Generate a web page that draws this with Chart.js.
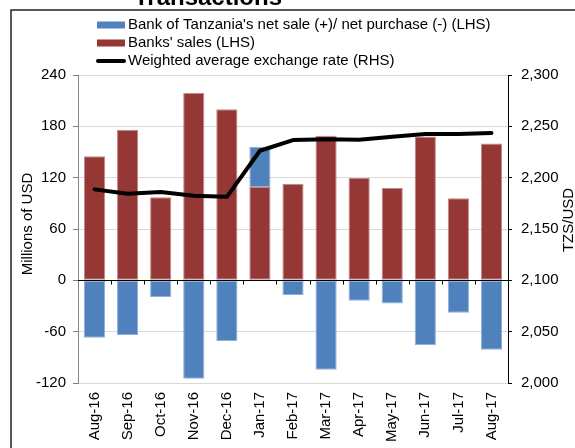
<!DOCTYPE html>
<html>
<head>
<meta charset="utf-8">
<script src="https://cdn.jsdelivr.net/npm/chart.js@4"></script>
<style>
  html, body { margin: 0; padding: 0; background: #fff; }
  #wrap { width: 575px; height: 448px; }
</style>
</head>
<body>
<div id="wrap"><canvas id="chart" width="575" height="448"></canvas></div>
<script>
const months = ["Aug-16", "Sep-16", "Oct-16", "Nov-16", "Dec-16", "Jan-17", "Feb-17",
    "Mar-17", "Apr-17", "May-17", "Jun-17", "Jul-17", "Aug-17"];
const botNet = [-67, -64, -19.5, -115, -71, 47, -17, -104.5, -24, -27, -76, -38, -81];
const banksSales = [145, 176, 97, 219, 200, 109, 113, 169, 120, 108, 168, 96, 160];
const exchRate = [2188.6, 2184.3, 2186, 2182.3, 2181.3, 2226.2, 2236.6, 2237.3, 2237, 2239.9, 2242.5, 2242.5, 2243.5];
const leftTicks = [-120, -60, 0, 60, 120, 180, 240];
const rightTicks = [2000, 2050, 2100, 2150, 2200, 2250, 2300];

const FONT = "'Liberation Sans', Arial, sans-serif";
Chart.defaults.font.family = FONT;
Chart.defaults.font.size = 15;
Chart.defaults.color = "#000";

// frame, title, zero line, legend, axis titles
const decor = {
    id: "decor",
    beforeDraw(chart) {
        const ctx = chart.ctx;
        ctx.save();
        ctx.fillStyle = "#fff";
        ctx.fillRect(0, 0, chart.width, chart.height);
        ctx.strokeStyle = "#222";
        ctx.lineWidth = 1.5;
        ctx.beginPath();
        ctx.moveTo(11, 460);
        ctx.lineTo(11, 10);
        ctx.lineTo(600, 10);
        ctx.stroke();
        ctx.fillStyle = "#000";
        ctx.font = "bold 24px " + FONT;
        ctx.textAlign = "center";
        ctx.textBaseline = "alphabetic";
        ctx.fillText("Transactions", 208, 5);
        ctx.restore();
    },
    afterDatasetsDraw(chart) {
        const ctx = chart.ctx;
        const area = chart.chartArea;
        const y0 = Math.round(chart.scales.y.getPixelForValue(0)) + 0.5;
        const n = months.length;
        const w = (area.right - area.left) / n;
        ctx.save();
        ctx.strokeStyle = "#000";
        ctx.lineWidth = 1;
        ctx.beginPath();
        ctx.moveTo(area.left, y0);
        ctx.lineTo(area.right, y0);
        for (let i = 1; i < n; i++) {
            const x = Math.round(area.left + i * w) + 0.5;
            ctx.moveTo(x, y0);
            ctx.lineTo(x, y0 + 4);
        }
        ctx.stroke();
        ctx.restore();
    },
    afterDraw(chart) {
        const ctx = chart.ctx;
        ctx.save();
        ctx.font = "15px " + FONT;
        ctx.fillStyle = "#000";
        ctx.textBaseline = "middle";
        ctx.textAlign = "left";
        const rows = [25, 43, 61];
        chart.data.datasets.forEach((ds, i) => {
            const y = rows[i];
            if (ds.type === "line") {
                ctx.strokeStyle = ds.borderColor;
                ctx.lineWidth = 4;
                ctx.lineCap = "round";
                ctx.beginPath();
                ctx.moveTo(98, y);
                ctx.lineTo(124, y);
                ctx.stroke();
            } else {
                ctx.fillStyle = ds.backgroundColor;
                ctx.fillRect(97, y - 3.5, 28, 7);
            }
            ctx.fillStyle = "#000";
            ctx.fillText(ds.label, 128, y);
        });

        // axis titles, both read bottom to top
        ctx.textAlign = "center";
        ctx.translate(28, 224);
        ctx.rotate(-Math.PI / 2);
        ctx.fillText("Millions of USD", 0, 0);
        ctx.setTransform(1, 0, 0, 1, 0, 0);
        ctx.translate(569, 220);
        ctx.rotate(-Math.PI / 2);
        ctx.fillText("TZS/USD", 0, 0);
        ctx.restore();
    }
};

new Chart(document.getElementById("chart"), {
    type: "bar",
    data: {
        labels: months,
        datasets: [
            {
                label: "Bank of Tanzania's net sale (+)/ net purchase (-) (LHS)",
                data: botNet,
                backgroundColor: "#4f81bd",
                borderColor: "#8fb0d8",
                borderWidth: 1,
                borderSkipped: false,
                barPercentage: 0.64,
                categoryPercentage: 1,
                order: 2,
                yAxisID: "y"
            },
            {
                label: "Banks' sales (LHS)",
                data: banksSales,
                backgroundColor: "#953735",
                borderColor: "#c08a88",
                borderWidth: 1,
                borderSkipped: false,
                barPercentage: 0.64,
                categoryPercentage: 1,
                order: 1,
                yAxisID: "y"
            },
            {
                type: "line",
                label: "Weighted average exchange rate (RHS)",
                data: exchRate,
                borderColor: "#000",
                backgroundColor: "#000",
                borderWidth: 4,
                borderJoinStyle: "round",
                borderCapStyle: "round",
                pointRadius: 0,
                tension: 0,
                order: 0,
                yAxisID: "y1"
            }
        ]
    },
    options: {
        responsive: false,
        devicePixelRatio: 1,
        animation: false,
        layout: { padding: { left: 12, top: 75, right: 0, bottom: 0 } },
        plugins: {
            legend: { display: false },
            tooltip: { enabled: false }
        },
        scales: {
            x: {
                stacked: true,
                grid: { display: false, drawTicks: false },
                border: { display: false },
                ticks: { minRotation: 90, maxRotation: 90, padding: 9, autoSkip: false },
                afterFit: (s) => { s.height = 448 - 383; }
            },
            y: {
                position: "left",
                stacked: true,
                min: -120,
                max: 240,
                afterBuildTicks: (s) => { s.ticks = leftTicks.map(v => ({ value: v })); },
                grid: {
                    color: (c) => c.tick && c.tick.value === 0 ? "rgba(0,0,0,0)" : "#d9d9d9",
                    tickColor: "#808080",
                    tickLength: 5
                },
                border: { color: "#868686" },
                ticks: { padding: 7 },
                afterFit: (s) => { s.width = 78 - 12; }
            },
            y1: {
                position: "right",
                min: 2000,
                max: 2300,
                afterBuildTicks: (s) => { s.ticks = rightTicks.map(v => ({ value: v })); },
                grid: { drawOnChartArea: false, tickColor: "#000", tickLength: 4 },
                border: { color: "#000" },
                ticks: {
                    padding: 9,
                    callback: (v) => v.toLocaleString("en-US")
                },
                afterFit: (s) => { s.width = 575 - 508; }
            }
        }
    },
    plugins: [decor]
});
</script>
</body>
</html>
